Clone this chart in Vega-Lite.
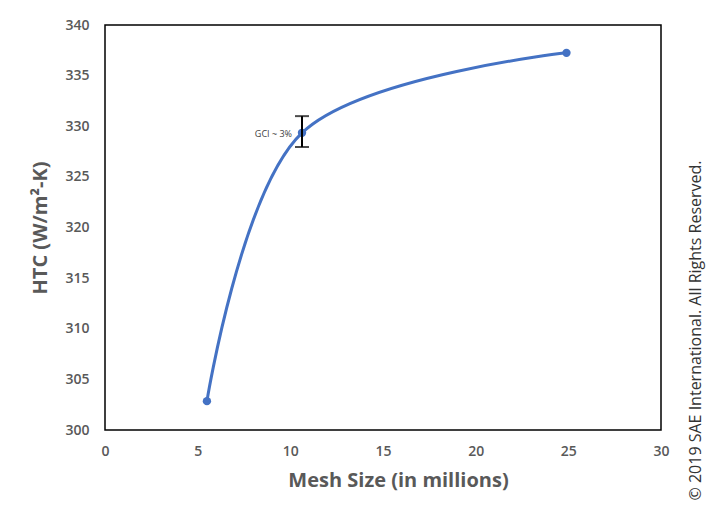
{
  "$schema": "https://vega.github.io/schema/vega-lite/v6.json",
  "autosize": "none",
  "width": 556,
  "height": 405,
  "padding": {"left": 105, "top": 25, "right": 48, "bottom": 88},
  "background": "white",
  "config": {
    "view": {"stroke": "black", "strokeWidth": 1.5},
    "font": "Open Sans",
    "axis": {"grid": false, "ticks": false, "domain": false, "labelFlush": false, "labelFont": "Open Sans", "labelFontWeight": 600, "labelFontSize": 14, "labelColor": "#595959", "titleFont": "Open Sans", "titleFontWeight": "bold", "titleFontSize": 20, "titleColor": "#595959"}
  },
  "datasets": {
    "main": [
      {"mesh": 5.5, "htc": 302.85},
      {"mesh": 10.63, "htc": 329.35},
      {"mesh": 24.9, "htc": 337.25}
    ],
    "err": [
      {"mesh": 10.63, "lo": 327.95, "hi": 331.0, "htc": 329.35, "label": "GCI ~ 3%"}
    ]
  },
  "layer": [
    {
      "data": {"name": "main"},
      "mark": {"type": "line", "interpolate": "catmull-rom", "color": "#4472C4", "strokeWidth": 3},
      "encoding": {
        "x": {"field": "mesh", "type": "quantitative", "scale": {"domain": [0, 30]}, "axis": {"values": [0, 5, 10, 15, 20, 25, 30], "title": "Mesh Size (in millions)", "labelPadding": 14, "titlePadding": 12, "titleX": 293}},
        "y": {"field": "htc", "type": "quantitative", "scale": {"domain": [300, 340]}, "axis": {"values": [300, 305, 310, 315, 320, 325, 330, 335, 340], "title": "HTC (W/m²-K)", "labelPadding": 16, "titlePadding": 14}}
      }
    },
    {
      "data": {"name": "main"},
      "mark": {"type": "point", "filled": true, "size": 70, "color": "#4472C4", "opacity": 1},
      "encoding": {
        "x": {"field": "mesh", "type": "quantitative"},
        "y": {"field": "htc", "type": "quantitative", "axis": null}
      }
    },
    {
      "data": {"name": "err"},
      "mark": {"type": "rule", "color": "black", "strokeWidth": 2},
      "encoding": {
        "x": {"field": "mesh", "type": "quantitative"},
        "y": {"field": "lo", "type": "quantitative", "axis": null},
        "y2": {"field": "hi"}
      }
    },
    {
      "data": {"name": "err"},
      "mark": {"type": "tick", "orient": "horizontal", "color": "black", "thickness": 2, "size": 14},
      "encoding": {
        "x": {"field": "mesh", "type": "quantitative"},
        "y": {"field": "lo", "type": "quantitative", "axis": null}
      }
    },
    {
      "data": {"name": "err"},
      "mark": {"type": "tick", "orient": "horizontal", "color": "black", "thickness": 2, "size": 14},
      "encoding": {
        "x": {"field": "mesh", "type": "quantitative"},
        "y": {"field": "hi", "type": "quantitative", "axis": null}
      }
    },
    {
      "data": {"name": "err"},
      "mark": {"type": "text", "align": "right", "baseline": "middle", "dx": -10, "dy": 1, "fontSize": 9, "color": "#404040", "font": "Open Sans"},
      "encoding": {
        "x": {"field": "mesh", "type": "quantitative"},
        "y": {"field": "htc", "type": "quantitative", "axis": null},
        "text": {"field": "label"}
      }
    },
    {
      "data": {"name": "main"},
      "mark": {"type": "point", "opacity": 0},
      "encoding": {
        "x": {"field": "mesh", "type": "quantitative"},
        "y": {"field": "htc", "type": "quantitative", "axis": {"orient": "right", "labels": false, "title": "© 2019 SAE International. All Rights Reserved.", "titleAngle": 270, "titleX": 34, "titleY": 475, "titleAlign": "left", "titleBaseline": "middle", "titleFontWeight": "normal", "titleFontSize": 16, "titleColor": "#333333"}}
      }
    }
  ],
  "resolve": {"axis": {"y": "independent"}}
}
